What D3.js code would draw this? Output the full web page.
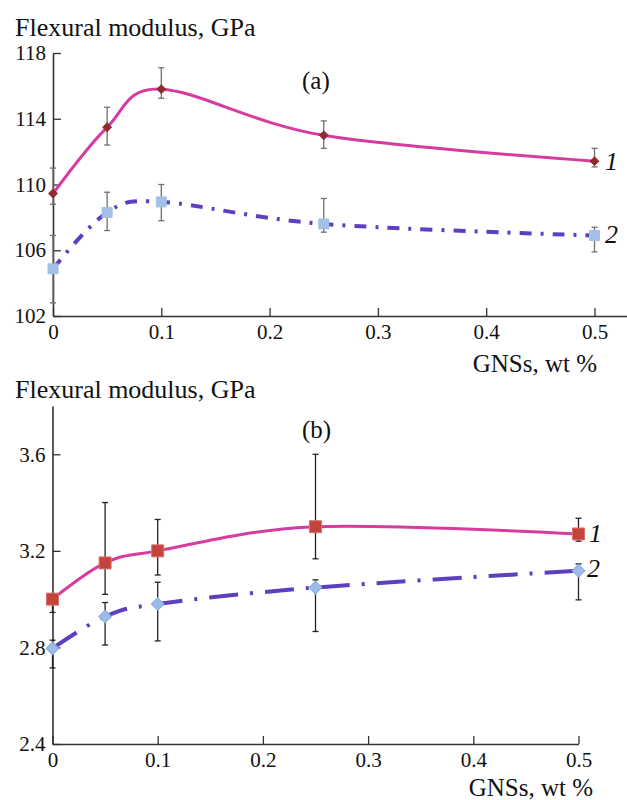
<!DOCTYPE html>
<html>
<head>
<meta charset="utf-8">
<script src="https://cdn.jsdelivr.net/npm/d3@7"></script>
<style>
  body { margin: 0; background: #fff; }
  svg, svg text { font-family: "Liberation Serif", "Times New Roman", Times, "DejaVu Serif", "Noto Serif", serif !important; }
</style>
</head>
<body>
<div id="chart"></div>
<script>
// GNSs content, wt %
var gns = [0, 0.05, 0.1, 0.25, 0.5];

// panel (a)
var aTicksX = [0, 0.1, 0.2, 0.3, 0.4, 0.5];
var aTicksY = [102, 106, 110, 114, 118];
var a1 = [109.45, 113.48, 115.8, 112.99, 111.42];
var a1Hi = [111.0, 114.7, 117.1, 113.87, 112.2];
var a1Lo = [108.8, 112.4, 115.25, 112.2, 111.07];
var a2 = [104.87, 108.3, 108.94, 107.6, 106.9];
var a2Hi = [106.9, 109.53, 110.0, 109.15, 107.4];
var a2Lo = [102.8, 107.2, 107.8, 107.1, 105.9];

// panel (b)
var bTicksX = [0, 0.1, 0.2, 0.3, 0.4, 0.5];
var bTicksY = [2.4, 2.8, 3.2, 3.6];
var b1 = [3.0, 3.15, 3.2, 3.3, 3.27];
var b1Hi = [3.02, 3.40, 3.33, 3.60, 3.335];
var b1Lo = [2.945, 3.02, 3.10, 3.167, 3.24];
var b2 = [2.796, 2.928, 2.98, 3.048, 3.118];
var b2Hi = [2.83, 2.986, 3.07, 3.08, 3.146];
var b2Lo = [2.715, 2.81, 2.827, 2.866, 2.997];

var serif = "'Liberation Serif', 'Times New Roman', Times, 'DejaVu Serif', 'Noto Serif', serif";

function rows(v, hi, lo) {
  return gns.map(function(x, i) { return {x: x, y: v[i], hi: hi[i], lo: lo[i]}; });
}

var svg = d3.select("#chart").append("svg").attr("width", 627).attr("height", 800);

function drawPanel(p) {
  var x = d3.scaleLinear().domain(p.xDomain).range(p.xRange);
  var y = d3.scaleLinear().domain(p.yDomain).range(p.yRange);
  var g = svg.append("g");

  // axes
  g.append("g")
    .attr("transform", "translate(0," + p.yRange[0] + ")")
    .call(d3.axisBottom(x).tickValues(p.ticksX).tickSizeInner(-8).tickSizeOuter(0).tickPadding(8)
      .tickFormat(function(d) { return d === 0 ? "0" : d3.format(".1f")(d); }));
  g.append("g")
    .attr("transform", "translate(" + p.xRange[0] + ",0)")
    .call(d3.axisLeft(y).tickValues(p.ticksY).tickSizeInner(-8).tickSizeOuter(0).tickPadding(7)
      .tickFormat(p.yFormat));
  g.selectAll("g").attr("font-family", serif);
  g.selectAll(".domain").attr("stroke", "#333").attr("stroke-width", 1.6);
  g.selectAll(".tick line").attr("stroke", "#333").attr("stroke-width", 1.3);
  g.selectAll(".tick text").attr("fill", "#111").attr("font-size", "21px");

  var line = d3.line()
    .x(function(d) { return x(d.x); })
    .y(function(d) { return y(d.y); })
    .curve(d3.curveCatmullRom.alpha(0));

  p.series.forEach(function(s) {
    // error bars
    var eb = g.append("g").attr("stroke", p.errColor).attr("stroke-width", 1.3);
    eb.selectAll("line.v").data(s.data).enter().append("line")
      .attr("x1", function(d) { return x(d.x); }).attr("x2", function(d) { return x(d.x); })
      .attr("y1", function(d) { return y(d.hi); }).attr("y2", function(d) { return y(d.lo); });
    ["hi", "lo"].forEach(function(k) {
      eb.selectAll("line." + k).data(s.data).enter().append("line")
        .attr("x1", function(d) { return x(d.x) - 3; }).attr("x2", function(d) { return x(d.x) + 3; })
        .attr("y1", function(d) { return y(d[k]); }).attr("y2", function(d) { return y(d[k]); });
    });
  });

  p.series.forEach(function(s) {
    g.append("path").datum(s.data)
      .attr("fill", "none")
      .attr("stroke", s.color)
      .attr("stroke-width", s.width)
      .attr("stroke-dasharray", s.dash)
      .attr("d", line);
  });

  p.series.forEach(function(s) {
    g.selectAll(null).data(s.data).enter().append("path")
      .attr("d", d3.symbol().type(d3.symbolSquare).size(s.size * s.size))
      .attr("transform", function(d) {
        return "translate(" + x(d.x) + "," + y(d.y) + ")" + (s.symbol === "diamond" ? " rotate(45)" : "");
      })
      .attr("fill", s.fill)
      .attr("stroke", s.stroke)
      .attr("stroke-width", 1);
  });

  // texts
  g.append("text").attr("x", 15).attr("y", p.titleY).attr("font-size", "26px").attr("fill", "#111")
    .attr("font-family", serif).text("Flexural modulus, GPa");
  g.append("text").attr("x", p.xLabelX).attr("y", p.xLabelY).attr("text-anchor", "end")
    .attr("font-size", "25px").attr("fill", "#111").attr("font-family", serif).text("GNSs, wt %");
  g.append("text").attr("x", 302).attr("y", p.tagY).attr("font-size", "25px").attr("fill", "#111")
    .attr("font-family", serif).text(p.tag);
  p.series.forEach(function(s) {
    g.append("text").attr("x", s.labelX).attr("y", s.labelY).attr("font-family", serif)
      .attr("font-size", "26px").attr("font-style", "italic").attr("fill", "#111").text(s.name);
  });
}

drawPanel({
  xDomain: [0, 0.53], xRange: [53, 627],
  yDomain: [102, 118], yRange: [316, 53],
  ticksX: aTicksX, ticksY: aTicksY,
  yFormat: d3.format("d"),
  errColor: "#707070",
  titleY: 36, xLabelX: 597, xLabelY: 372, tag: "(a)", tagY: 89,
  series: [
    {name: "1", data: rows(a1, a1Hi, a1Lo), color: "#d63ba0", width: 3, dash: null,
     symbol: "diamond", size: 6, fill: "#8e2b2e", stroke: "#8e2b2e", labelX: 605, labelY: 170},
    {name: "2", data: rows(a2, a2Hi, a2Lo), color: "#5d3fbf", width: 4, dash: "12,9,3,9",
     symbol: "square", size: 10, fill: "#a3c0e8", stroke: "#a3c0e8", labelX: 605, labelY: 243}
  ]
});

drawPanel({
  xDomain: [0, 0.5], xRange: [52.5, 578.5],
  yDomain: [2.4, 3.8], yRange: [744, 406],
  ticksX: bTicksX, ticksY: bTicksY,
  yFormat: d3.format(".1f"),
  errColor: "#222",
  titleY: 398, xLabelX: 593, xLabelY: 796, tag: "(b)", tagY: 438,
  series: [
    {name: "1", data: rows(b1, b1Hi, b1Lo), color: "#d63ba0", width: 3, dash: null,
     symbol: "square", size: 12, fill: "#c4433b", stroke: "#d9706a", labelX: 589, labelY: 542},
    {name: "2", data: rows(b2, b2Hi, b2Lo), color: "#5d3fbf", width: 4, dash: "29,12,3,12",
     symbol: "diamond", size: 9, fill: "#9bbbe8", stroke: "#8aaee0", labelX: 587, labelY: 577}
  ]
});
</script>
</body>
</html>
